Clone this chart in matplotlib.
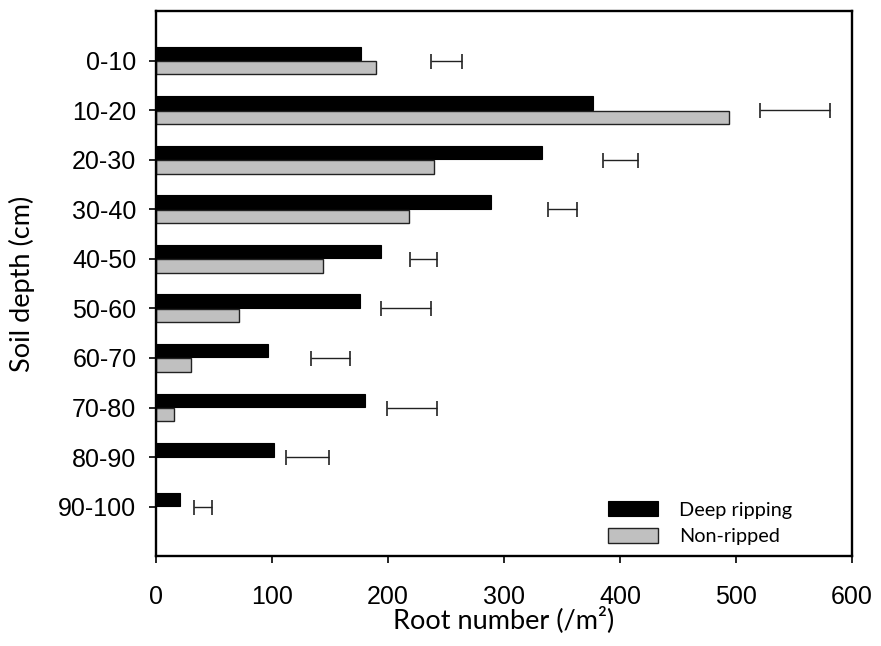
import matplotlib
matplotlib.use("Agg")
from matplotlib import pyplot as plt
import numpy as np

plt.rcParams["font.family"] = ["Liberation Sans", "DejaVu Sans"]

# soil depth classes, top to bottom
depths = ["0-10", "10-20", "20-30", "30-40", "40-50",
          "50-60", "60-70", "70-80", "80-90", "90-100"]

# root number per m2
deep_ripping = [177, 377, 333, 289, 194, 176, 97, 180, 102, 21]
non_ripped = [190, 494, 240, 218, 144, 72, 30, 16, 0, 0]

# LSD bars: centre and half-width
lsd_centre = [250.5, 551, 400.5, 350.5, 230.5, 215.5, 150.5, 220.5, 130.5, 40.5]
lsd_half = [13, 30, 15.5, 12.5, 11.5, 21.5, 16.5, 21.5, 18.5, 7.5]

label_font = ["Lato", "DejaVu Sans"]

fig = plt.figure(figsize=(8.81, 6.46), dpi=100)
ax = fig.add_axes([0.177, 0.139, 0.790, 0.844])

y = np.arange(len(depths))
bar_h = 0.27
off = 0.145

ax.barh(y - off, deep_ripping, height=bar_h, color="black",
        edgecolor="black", linewidth=0.8, label="Deep ripping")
gray_y = [yy + off for yy, v in zip(y, non_ripped) if v > 0]
gray_v = [v for v in non_ripped if v > 0]
ax.barh(gray_y, gray_v, height=bar_h, color="#c0c0c0",
        edgecolor="#222222", linewidth=1.0, label="Non-ripped")

ax.errorbar(lsd_centre, y, xerr=lsd_half, fmt="none", ecolor="#222222",
            elinewidth=1.0, capsize=5.4, capthick=1.2)

ax.set_xlim(0, 600)
ax.set_ylim(10, -1)
ax.set_xticks(range(0, 601, 100))
ax.set_yticks(y)
ax.set_yticklabels(depths)

for s in ax.spines.values():
    s.set_linewidth(1.7)
ax.tick_params(axis="both", direction="out", length=5, width=1.2,
               labelsize=18)
ax.tick_params(axis="x", pad=15.5)
ax.tick_params(axis="y", pad=9)

ax.set_xlabel("Root number (/m²)", fontsize=19.5, family=label_font)
ax.xaxis.set_label_coords(0.5, -0.092)
ax.set_ylabel("Soil depth (cm)", fontsize=19.5, family=label_font)
ax.yaxis.set_label_coords(-0.174, 0.5)

leg = ax.legend(loc="lower right", bbox_to_anchor=(0.928, 0.002), frameon=False,
                borderpad=0, prop={"family": label_font, "size": 14.3},
                handlelength=2.5, handleheight=0.8, handletextpad=1.05,
                labelspacing=0.45)

fig.savefig("out.png", dpi=100)
